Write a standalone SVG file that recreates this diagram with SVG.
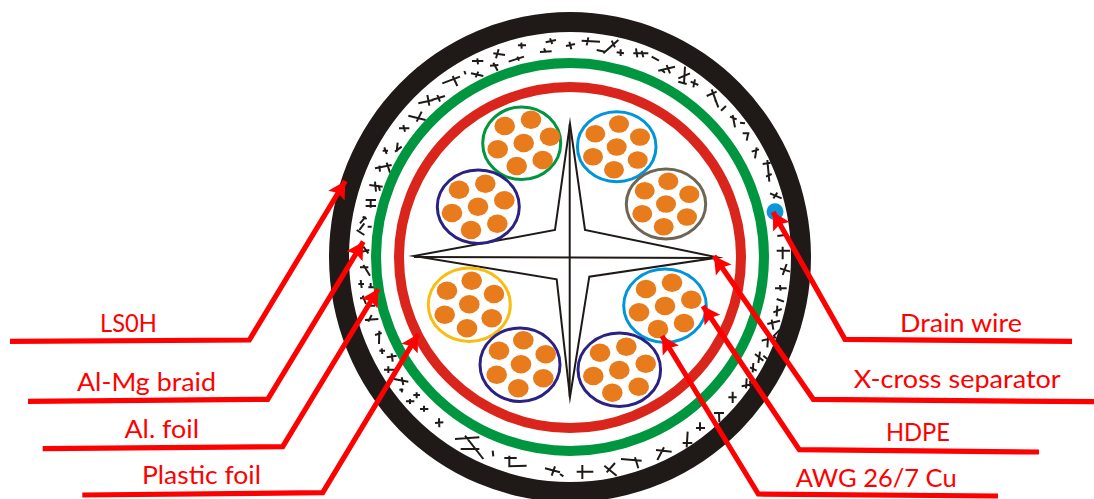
<svg xmlns="http://www.w3.org/2000/svg" width="1094" height="499" viewBox="0 0 1094 499">
<style>
.pair{fill:#fff;stroke-width:3}
.cu{fill:#e87b1c}
.fill{fill:none;stroke:#1f1a17;stroke-width:6;stroke-linecap:butt}
.lead{fill:none;stroke:#ff0000;stroke-width:5.200;stroke-linejoin:miter;marker-end:url(#ah)}
.lab{font-family:"Lato","Carlito","Liberation Sans",sans-serif;font-size:25px;fill:#ff0000}
</style>
<defs>
<marker id="ah" markerUnits="userSpaceOnUse" markerWidth="20" markerHeight="22" refX="17" refY="10" orient="auto"><path d="M0 0.500L17 10L0 19.500L3 10Z" fill="#ff0000"/></marker>
</defs>
<rect width="1094" height="499" fill="#fff"/>
<g id="jacket"><path fill="#1f1a17" fill-rule="evenodd" d="M329 257a241 245 0 1 1 482 0a241 245 0 1 1 -482 0ZM349 257a221 225 0 1 0 442 0a221 225 0 1 0 -442 0Z"/></g>
<g id="braid">
<g transform="translate(320 20) scale(.33333)"><path class="fill" d="M677 67L708 60M690 55L697 72M660 96L695 94M672 85L678 98M594 76L618 76M604 68L605 86M566 125L612 110M592 110L597 122M520 100L555 105M536 88L528 115M456 123L490 123M472 115L474 133M510 137L535 135M520 128L533 152M433 153L437 163M453 160L490 168M475 155L467 172M367 190L420 170M398 168L412 198M322 225L328 257M295 250L340 240M352 225L360 245M335 240L375 228M265 287L317 300M305 275L290 305M237 325L268 325M250 315L255 335M225 395L245 380M233 368L230 395M188 392L204 392M193 382L200 402M165 445L215 435M200 428L210 458M178 437L180 455M148 495L188 500M165 485L168 515M175 495L180 512M137 540L168 540M137 558L168 558M152 537L152 563M120 610L137 590M128 590L140 597M110 630L133 645M118 630L133 610M143 620L155 620M130 680L145 700M125 695L148 690"/></g>
<g transform="translate(560 20) scale(.33333)"><path class="fill" d="M18 78L45 72M28 65L34 88M65 62L120 65M85 52L80 76M110 90L135 95M130 100L175 60M155 62L165 82M170 97L192 100M182 88L182 108M220 100L265 100M228 85L232 112M245 92L250 112M275 110L297 122M295 152L345 140M320 135L330 160M305 150L315 158M355 175L390 160M375 140L372 190M355 185L380 192M392 185L415 195M405 178L400 202M440 228L470 215M455 208L475 262M465 240L470 248M483 272L498 258M510 290L530 298M518 285L525 322M540 308L555 310M548 340L568 340M565 338L560 362M575 395L597 388M590 382L585 415M608 432L632 428M622 420L628 485M618 470L635 462M630 520L665 535M652 518L640 535M652 648L675 645M650 692L690 692M668 680L668 718"/></g>
<g transform="translate(320 259) scale(.33333)"><path class="fill" d="M120 25L145 25M130 18L150 50M115 75L132 75M122 63L125 87M145 85L165 85M152 72L152 88M120 118L140 118M128 110L138 135M148 140L165 140M135 183L175 180M155 168L145 188M165 228L185 222M178 215L177 255M178 275L195 275M185 268L187 285M200 295L230 290M215 283L218 308M192 332L225 332M205 322L205 342M222 360L265 368M245 355L250 378M238 392L250 392M244 388L246 400M280 408L300 408M290 400L290 418M258 427L283 427M270 420L270 435M300 450L325 450M312 440L312 458M345 492L370 490M357 478L358 505M405 540L478 535M435 530L490 600M422 570L478 570M518 575L520 592M553 597L590 597M568 590L568 622L620 620M675 628L720 640M705 622L695 650"/></g>
<g transform="translate(560 259) scale(.33333)"><path class="fill" d="M660 28L690 38M680 15L668 48M645 88L680 88M660 78L662 95M650 120L672 128M640 160L665 150M652 140L650 172M622 195L660 185M635 182L640 212M660 212L640 232M605 245L648 235M625 225L622 265M585 285L610 305M600 278L595 312M610 290L622 300M570 325L590 335M580 312L578 340M545 382L580 375M560 358L558 388M570 365L572 385M505 415L530 415M518 398L518 432M462 462L492 462M477 462L478 490M408 507L435 507M420 490L420 515M368 552L397 552M383 518L380 565M288 573L335 578M312 565L292 603M183 600L245 605M225 595L235 628M165 612L140 640M133 620L170 650M50 638L100 638M67 618L67 660M0 645L10 652"/></g>
</g>
<g id="foil-green"><ellipse cx="570" cy="257" rx="194" ry="194" fill="none" stroke="#009640" stroke-width="10"/></g>
<g id="hdpe-red"><ellipse cx="570" cy="257.500" rx="171" ry="170.500" fill="none" stroke="#da251d" stroke-width="10"/></g>
<g id="drain"><circle cx="775" cy="211.700" r="8.500" fill="#0a96dc"/></g>
<g id="separator"><path fill="none" stroke="#1f1a17" stroke-width="2" stroke-linejoin="miter" stroke-miterlimit="20" d="M570 124L585 230L718 257.500L589.300 276.700L570 397L556.700 279.300L414 256L555 230Z"/><path fill="none" stroke="#1f1a17" stroke-width="2" d="M569.700 124V397M414 257L716 258"/></g>
<g id="pair-green"><ellipse class="pair" stroke="#009640" cx="521.700" cy="143.300" rx="39" ry="36.300"/>
<g class="cu"><ellipse cx="504.700" cy="126" rx="10.300" ry="9.200"/><ellipse cx="531" cy="119.700" rx="10.300" ry="9.200"/><ellipse cx="550" cy="136.700" rx="10.300" ry="9.200"/><ellipse cx="523.700" cy="143" rx="10.300" ry="9.200"/><ellipse cx="497.700" cy="149.300" rx="10.300" ry="9.200"/><ellipse cx="516.700" cy="166" rx="10.300" ry="9.200"/><ellipse cx="542.700" cy="160" rx="10.300" ry="9.200"/></g></g>
<g id="pair-navy1"><ellipse class="pair" stroke="#2a2183" cx="478.300" cy="206.700" rx="41" ry="36.700"/>
<g class="cu"><ellipse cx="459" cy="189.700" rx="10.300" ry="9.200"/><ellipse cx="485.300" cy="183.700" rx="10.300" ry="9.200"/><ellipse cx="504.300" cy="200.300" rx="10.300" ry="9.200"/><ellipse cx="478" cy="206.700" rx="10.300" ry="9.200"/><ellipse cx="452" cy="213" rx="10.300" ry="9.200"/><ellipse cx="471" cy="230" rx="10.300" ry="9.200"/><ellipse cx="497.300" cy="223.700" rx="10.300" ry="9.200"/></g></g>
<g id="pair-blue1"><ellipse class="pair" stroke="#0095da" cx="616.700" cy="146.700" rx="39.300" ry="35"/>
<g class="cu"><ellipse cx="595.300" cy="133.700" rx="10" ry="8.800"/><ellipse cx="619" cy="124" rx="10" ry="8.800"/><ellipse cx="640" cy="137" rx="10" ry="8.800"/><ellipse cx="616.700" cy="147" rx="10" ry="8.800"/><ellipse cx="593" cy="156.700" rx="10" ry="8.800"/><ellipse cx="614" cy="169.700" rx="10" ry="8.800"/><ellipse cx="637.700" cy="160" rx="10" ry="8.800"/></g></g>
<g id="pair-brown"><ellipse class="pair" stroke="#6f6555" cx="666" cy="204" rx="39.700" ry="35"/>
<g class="cu"><ellipse cx="644.700" cy="190.700" rx="10" ry="8.800"/><ellipse cx="668.300" cy="181.300" rx="10" ry="8.800"/><ellipse cx="689.300" cy="194.300" rx="10" ry="8.800"/><ellipse cx="666" cy="204" rx="10" ry="8.800"/><ellipse cx="642.300" cy="213.700" rx="10" ry="8.800"/><ellipse cx="663.700" cy="226.700" rx="10" ry="8.800"/><ellipse cx="687" cy="217" rx="10" ry="8.800"/></g></g>
<g id="pair-yellow"><ellipse class="pair" stroke="#f9bd11" cx="469.300" cy="304.700" rx="41" ry="36.700"/>
<g class="cu"><ellipse cx="447" cy="290.700" rx="10.300" ry="9.200"/><ellipse cx="471.700" cy="280.700" rx="10.300" ry="9.200"/><ellipse cx="494" cy="294" rx="10.300" ry="9.200"/><ellipse cx="469.300" cy="304.300" rx="10.300" ry="9.200"/><ellipse cx="444.700" cy="314.700" rx="10.300" ry="9.200"/><ellipse cx="467" cy="328.300" rx="10.300" ry="9.200"/><ellipse cx="491.700" cy="318.300" rx="10.300" ry="9.200"/></g></g>
<g id="pair-navy2"><ellipse class="pair" stroke="#2a2183" cx="520" cy="364.700" rx="40" ry="36.700"/>
<g class="cu"><ellipse cx="499" cy="350.700" rx="10.300" ry="9.200"/><ellipse cx="523.300" cy="340.300" rx="10.300" ry="9.200"/><ellipse cx="545.700" cy="354.300" rx="10.300" ry="9.200"/><ellipse cx="521" cy="364.300" rx="10.300" ry="9.200"/><ellipse cx="496.700" cy="374.700" rx="10.300" ry="9.200"/><ellipse cx="518.300" cy="388.300" rx="10.300" ry="9.200"/><ellipse cx="543.300" cy="378.300" rx="10.300" ry="9.200"/></g></g>
<g id="pair-blue2"><ellipse class="pair" stroke="#0095da" cx="665" cy="305.700" rx="41.300" ry="36.700"/>
<g class="cu"><ellipse cx="646" cy="289" rx="10.300" ry="9.200"/><ellipse cx="672" cy="282.700" rx="10.300" ry="9.200"/><ellipse cx="691.300" cy="299.700" rx="10.300" ry="9.200"/><ellipse cx="665" cy="306" rx="10.300" ry="9.200"/><ellipse cx="639" cy="312.300" rx="10.300" ry="9.200"/><ellipse cx="658" cy="329" rx="10.300" ry="9.200"/><ellipse cx="684" cy="323" rx="10.300" ry="9.200"/></g></g>
<g id="pair-navy3"><ellipse class="pair" stroke="#2a2183" cx="619.300" cy="369.700" rx="41.300" ry="36.700"/>
<g class="cu"><ellipse cx="600" cy="352.700" rx="10.300" ry="9.200"/><ellipse cx="626.300" cy="346.700" rx="10.300" ry="9.200"/><ellipse cx="645.700" cy="363.700" rx="10.300" ry="9.200"/><ellipse cx="619.300" cy="370" rx="10.300" ry="9.200"/><ellipse cx="593.300" cy="376" rx="10.300" ry="9.200"/><ellipse cx="612.300" cy="392.700" rx="10.300" ry="9.200"/><ellipse cx="638.700" cy="386.700" rx="10.300" ry="9.200"/></g></g>
<g id="connectors">
<polyline class="lead" points="10,341.300 249.300,340 345.300,181"/>
<polyline class="lead" points="28,401.300 267.700,399.300 363.300,241.700"/>
<polyline class="lead" points="42.700,448.700 282.700,446.700 378.300,289"/>
<polyline class="lead" points="82.300,495 322.700,492.700 418.300,334"/>
<polyline class="lead" points="1072,341.300 845,339.300 773,212"/>
<polyline class="lead" points="1094,401.700 813.300,399.300 714,256"/>
<polyline class="lead" points="1039,452 799.300,449.700 703,306"/>
<polyline class="lead" points="998,496 758.300,494 662,336"/>
</g>
<g id="labels">
<text class="lab" x="100" y="331.700" textLength="57" lengthAdjust="spacingAndGlyphs">LS0H</text>
<text class="lab" x="77" y="390.700" textLength="139" lengthAdjust="spacingAndGlyphs">Al-Mg braid</text>
<text class="lab" x="124.500" y="438" textLength="74.500" lengthAdjust="spacingAndGlyphs">Al. foil</text>
<text class="lab" x="142" y="484.300" textLength="119" lengthAdjust="spacingAndGlyphs">Plastic foil</text>
<text class="lab" x="900" y="331.700" textLength="122" lengthAdjust="spacingAndGlyphs">Drain wire</text>
<text class="lab" x="853.700" y="387.700" textLength="207" lengthAdjust="spacingAndGlyphs">X-cross separator</text>
<text class="lab" x="886" y="441" textLength="64" lengthAdjust="spacingAndGlyphs">HDPE</text>
<text class="lab" x="795.700" y="486.700" textLength="161" lengthAdjust="spacingAndGlyphs">AWG 26/7 Cu</text>
</g>
</svg>
